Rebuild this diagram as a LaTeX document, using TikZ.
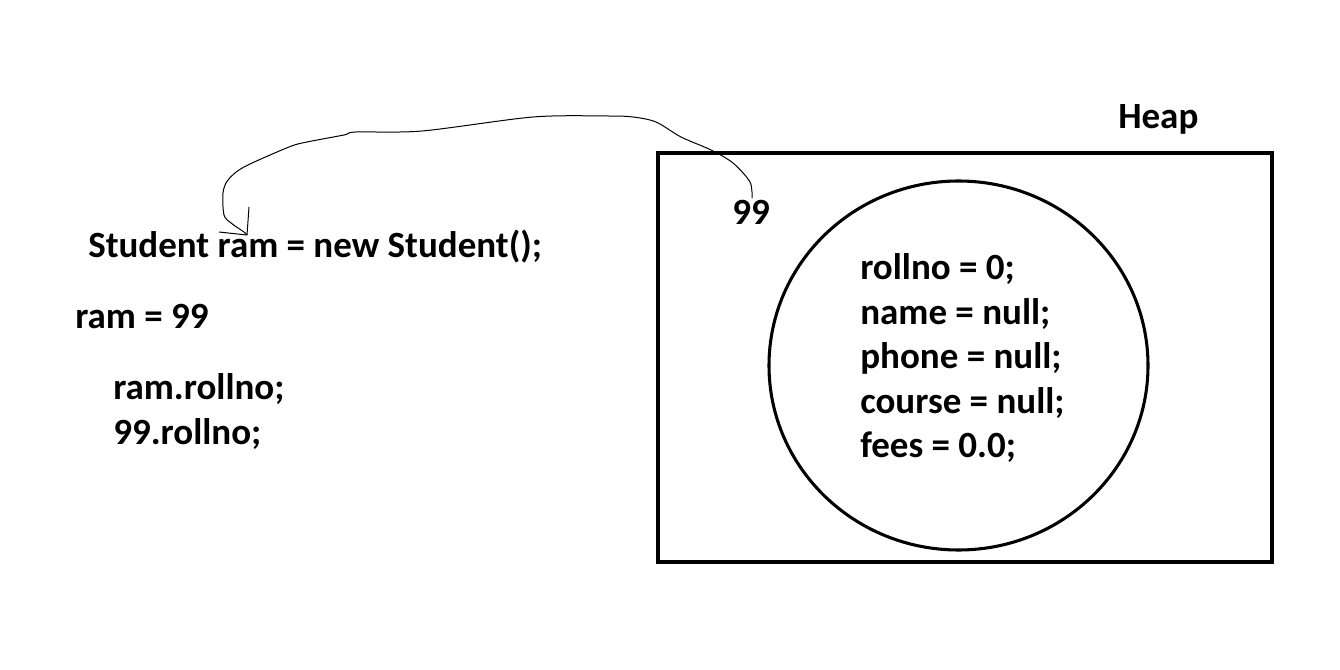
\documentclass[tikz,border=0pt]{standalone}
\usepackage{fontspec}
\setmainfont{Carlito}
\begin{document}
\begin{tikzpicture}[x=0.75pt,y=-0.75pt,
  txt/.style={anchor=base west,inner sep=0pt,font=\fontsize{27.75pt}{33pt}\selectfont\bfseries},
  heapbox/.style={draw,line width=3pt},
  objcircle/.style={draw,line width=2.3pt},
  ref/.style={draw,line width=0.75pt}]
\useasboundingbox (0,0) rectangle (1340,670);
\node[heapbox,minimum width=460.5pt,minimum height=306.75pt,inner sep=0pt] (heap) at (965,357.5) {};
\draw[objcircle] (958.5,365.5) ellipse [x radius=189.5,y radius=184.5];
\node[txt] (heaplbl) at (1118,129) {Heap};
\node[txt] (n99) at (732,225) {99};
\node[txt] (decl) at (88,258) {Student ram = new Student();};
\node[txt] (assign) at (75,329) {ram = 99};
\node[txt] (acc1) at (113,400) {ram.rollno;};
\node[txt] (acc2) at (113,445) {99.rollno;};
\node[txt] (f1) at (860,280) {rollno = 0;};
\node[txt] (f2) at (860,325) {name = null;};
\node[txt] (f3) at (860,369) {phone = null;};
\node[txt] (f4) at (860,414) {course = null;};
\node[txt] (f5) at (860,458) {fees = 0.0;};
\coordinate (tip) at (247,235);
\coordinate (start) at (752,198);
\draw[ref] plot[smooth,tension=0.5] coordinates {(start) (750,182) (733,163) (711,150) (681,137) (656,122) (633,117) (607,116) (533,117) (422,131) (356,132) (344,135) (307,142) (289,147) (244,167) (228,180) (223,193) (224,215) (231,223) (244,232) (tip)};
\draw[ref] (tip) -- (249,207);
\draw[ref] (tip) -- (219,232);
\end{tikzpicture}
\end{document}
